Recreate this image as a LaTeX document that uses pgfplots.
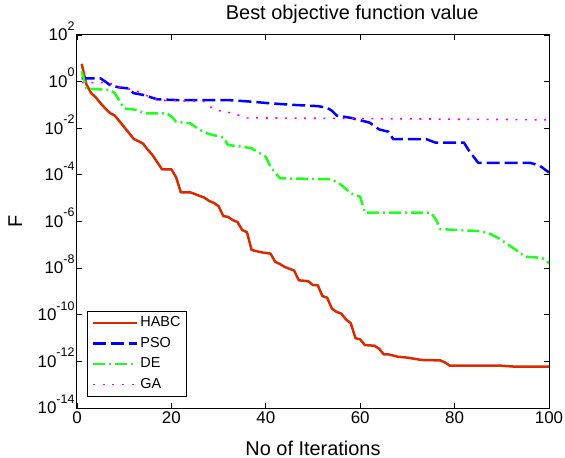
\documentclass[border=0pt]{standalone}
\usepackage{fontspec}
\setmainfont{Liberation Sans}
\usepackage{pgfplots}
\pgfplotsset{compat=1.18}
\usetikzlibrary{calc}

\definecolor{habc}{RGB}{218,42,0}
\definecolor{pso}{RGB}{0,0,255}
\definecolor{de}{RGB}{30,255,30}
\definecolor{ga}{RGB}{255,0,255}

% power-of-ten tick label with a raised exponent (the exponent does not move the base)
\newcommand{\tenpow}[1]{10\smash{\raisebox{0.62em}{\fontsize{12.5}{12.5}\selectfont #1}}}

\begin{document}
\begin{tikzpicture}
\begin{axis}[
  name=ax,
  scale only axis,
  width=472bp, height=373bp,
  xmin=0, xmax=100,
  ymode=log, ymin=1e-14, ymax=1e2,
  xtick={0,20,40,60,80,100},
  ytick={1e-14,1e-12,1e-10,1e-8,1e-6,1e-4,1e-2,1e0,1e2},
  yticklabels={\tenpow{-14},\tenpow{-12},\tenpow{-10},\tenpow{-8},\tenpow{-6},\tenpow{-4},\tenpow{-2},\tenpow{0},\tenpow{2}},
  yminorticks=false, xminorticks=false,
  /pgf/number format/assume math mode=true,
  tick align=inside,
  major tick length=5bp,
  tick style={black, line width=0.8bp},
  axis line style={black, line width=1bp},
  tick label style={font=\fontsize{17}{17}\selectfont},
  yticklabel style={xshift=1bp},
  title={Best objective function value},
  title style={at={(axis description cs:0.583,1)}, anchor=base, yshift=10bp, font=\fontsize{20}{20}\selectfont},
  xlabel={No of Iterations},
  xlabel style={at={(axis description cs:0.5,0)}, anchor=base, yshift=-47bp, font=\fontsize{20}{20}\selectfont},
  ylabel={F},
  ylabel style={at={(axis description cs:-0.131,0.5)}, anchor=center, font=\fontsize{20}{20}\selectfont},
  legend cell align=left,
  legend style={at={(axis description cs:0.022,0.030)}, anchor=south west,
    font=\fontsize{14.5}{14.5}\selectfont, draw=black, line width=1bp,
    nodes={text height=10.5bp, text depth=3bp, inner sep=2bp},
    row sep=3bp, inner xsep=4bp, inner ysep=3bp},
  legend image code/.code={\draw[#1] (0bp,0bp) -- (44bp,0bp);},
  every axis plot/.append style={line join=round},
]
% HABC
\addplot[habc, line width=2.5bp] coordinates {
 (1,5.8) (2,0.75) (3,0.32) (4,0.21) (5,0.117) (6,0.071) (7,0.045) (8,0.035)
 (9,0.020) (10,0.0112) (11,6.3e-3) (12,3.5e-3) (13,2.8e-3) (14,2.2e-3)
 (15,1.2e-3) (16,7.1e-4) (17,3.5e-4) (18,1.74e-4) (20,1.74e-4) (21,7.9e-5)
 (22,1.78e-5) (24,1.78e-5) (25,1.5e-5) (27,1.05e-5) (28,7.6e-6) (29,6.3e-6)
 (30,4.5e-6) (31,1.7e-6) (32,1.58e-6) (33,1.15e-6) (34,9.5e-7) (35,4.3e-7)
 (36,3.5e-7) (37,6.0e-8) (39,4.8e-8) (41,4.2e-8) (42,1.86e-8) (43,1.5e-8)
 (44,1.12e-8) (46,7.9e-9) (47,3.0e-9) (49,2.75e-9) (50,1.86e-9) (51,1.86e-9)
 (52,6.3e-10) (53,5.4e-10) (54,1.86e-10) (55,1.32e-10) (56,1.12e-10)
 (57,6.3e-11) (58,4.3e-11) (59,1.0e-11) (60,8.7e-12) (61,5.0e-12) (63,4.7e-12)
 (64,3.5e-12) (65,2.0e-12) (66,2.0e-12) (68,1.58e-12) (70,1.45e-12)
 (73,1.15e-12) (77,1.1e-12) (78,8.9e-13) (79,6.5e-13) (90,6.5e-13)
 (93,5.9e-13) (100,5.9e-13)
};
\addlegendentry{HABC}
% PSO
\addplot[pso, line width=2.5bp, dash pattern=on 13bp off 5bp] coordinates {
 (1,1.38) (5,1.38) (6,1.0) (7,0.71) (9,0.56) (11,0.51) (12,0.32) (14,0.27)
 (17,0.174) (21,0.162) (32,0.162) (37,0.138) (41,0.117) (46,0.100) (51,0.089)
 (53,0.076) (54,0.056) (55,0.035) (58,0.028) (62,0.0174) (64,8.9e-3)
 (66,7.1e-3) (67,3.4e-3) (74,3.4e-3) (76,2.4e-3) (82,2.4e-3) (83,1.12e-3)
 (85,3.3e-4) (96,3.3e-4) (98,2.5e-4) (99,1.78e-4) (100,1.26e-4)
};
\addlegendentry{PSO}
% DE
\addplot[de, line width=2.5bp, dash pattern=on 12bp off 4bp on 2bp off 4bp] coordinates {
 (1,2.8) (2,0.5) (7,0.44) (8,0.32) (10,0.071) (13,0.060) (14,0.044) (19,0.044)
 (20,0.032) (21,0.019) (24,0.0162) (26,8.5e-3) (28,5.6e-3) (31,4.1e-3)
 (32,1.9e-3) (35,1.62e-3) (37,1.38e-3) (40,6.0e-4) (41,2.2e-4) (43,7.1e-5)
 (54,6.5e-5) (56,3.7e-5) (58,1.62e-5) (60,1.15e-5) (61,2.4e-6) (75,2.4e-6)
 (76,1.26e-6) (77,4.7e-7) (85,3.9e-7) (87,3.3e-7) (89,2.1e-7) (92,8.3e-8)
 (93,6.0e-8) (95,3.1e-8) (98,2.8e-8) (99,2.5e-8) (100,1.6e-8)
};
\addlegendentry{DE}
% GA
\addplot[ga, line width=1.6bp, dash pattern=on 2bp off 7.6bp] coordinates {
 (1,0.9) (7,0.9) (8,0.6) (12,0.45) (13,0.37) (15,0.24) (17,0.162) (27,0.138)
 (29,0.063) (33,0.044) (36,0.028) (100,0.023)
};
\addlegendentry{GA}
\end{axis}
\pgfresetboundingbox
\path[use as bounding box] ($(ax.south west)+(-77bp,-50bp)$) rectangle ($(ax.north east)+(16bp,35bp)$);
\end{tikzpicture}
\end{document}
